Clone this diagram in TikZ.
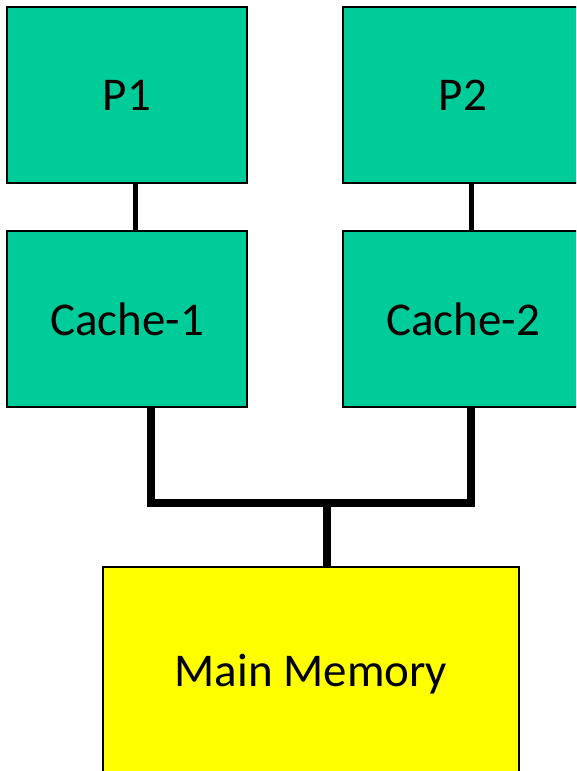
\documentclass[tikz,border=0pt]{standalone}
\usepackage{fontspec}
\setmainfont{Carlito}
\definecolor{procgreen}{RGB}{0,204,153}
\definecolor{memyellow}{RGB}{255,255,0}
\begin{document}
\begin{tikzpicture}[x=1pt,y=-1pt,
  box/.style={draw=black,line width=2pt,minimum width=240pt,minimum height=176pt,inner sep=0pt,fill=procgreen,font=\fontsize{47}{50}\selectfont},
  membox/.style={draw=black,line width=2pt,minimum width=416pt,minimum height=214pt,inner sep=0pt,fill=memyellow,font=\fontsize{47}{50}\selectfont},
  link/.style={line width=5pt},
  bus/.style={line width=8pt}]
\useasboundingbox (0,0) rectangle (576,771);
\clip (0,0) rectangle (576,771);
\fill[white] (0,0) rectangle (576,771);
\node[box] (p1) at (127,95) {P1};
\node[box] (p2) at (463,95) {P2};
\node[box] (c1) at (127,319) {Cache-1};
\node[box] (c2) at (463,319) {Cache-2};
\node[membox] (mm) at (311,674) {Main Memory};
\coordinate (j) at (327,503);
\draw[link] ([xshift=8pt]p1.south) -- ([xshift=8pt]c1.north);
\draw[link] ([xshift=8pt]p2.south) -- ([xshift=8pt]c2.north);
\draw[bus] ([xshift=24pt]c1.south) |- (j) -| ([xshift=8pt]c2.south);
\draw[bus] (j) -- (mm.north -| j);
\end{tikzpicture}
\end{document}
